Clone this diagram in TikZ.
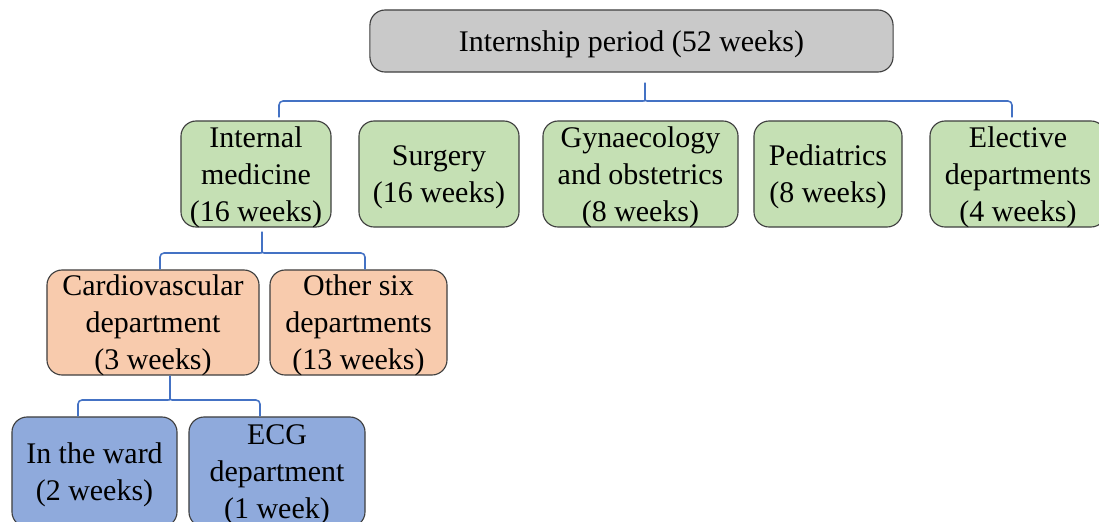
\documentclass[tikz,border=0pt]{standalone}
\usepackage{fontspec}
\setmainfont{Liberation Serif}
\usetikzlibrary{calc}
\definecolor{topGrey}{HTML}{C9C9C9}
\definecolor{deptGreen}{HTML}{C5E0B4}
\definecolor{subOrange}{HTML}{F8CBAD}
\definecolor{partBlue}{HTML}{8FAADC}
\definecolor{edgeGrey}{HTML}{3F3F3F}
\definecolor{braceBlue}{HTML}{4472C4}

\begin{document}
\begin{tikzpicture}[x=0.025cm,y=-0.025cm,
  box/.style={draw=edgeGrey,line width=0.8pt,rounded corners=0.38cm,align=center,
    inner sep=0pt,text depth=0pt,font=\fontsize{21.3}{26.3}\selectfont},
  level0/.style={box,fill=topGrey,minimum width=13.075cm,minimum height=1.55cm},
  level1/.style={box,fill=deptGreen,minimum height=2.65cm},
  level2/.style={box,fill=subOrange,minimum height=2.625cm},
  level3/.style={box,fill=partBlue,minimum height=2.75cm},
  brace/.style={draw=braceBlue,line width=1.1pt,rounded corners=0.1cm}]
  \useasboundingbox (0,0) rectangle (1099,521);
  \clip (0,0) rectangle (1099,521);

  % boxes
  \node[level0] (top) at (631.5,41) {Internship period (52 weeks)};
  \node[level1,minimum width=3.75cm] (intmed) at (256,174) {Internal\\medicine\\(16 weeks)};
  \node[level1,minimum width=4cm] (surg) at (439,174) {Surgery\\(16 weeks)};
  \node[level1,minimum width=4.875cm] (gyn) at (640.5,174) {Gynaecology\\and obstetrics\\(8 weeks)};
  \node[level1,minimum width=3.7cm] (ped) at (828,174) {Pediatrics\\(8 weeks)};
  \node[level1,minimum width=4.4cm] (elect) at (1018,174) {Elective\\departments\\(4 weeks)};
  \node[level2,minimum width=5.3cm] (cardio) at (153,322.5) {Cardiovascular\\department\\(3 weeks)};
  \node[level2,minimum width=4.425cm] (other) at (358.5,322.5) {Other six\\departments\\(13 weeks)};
  \node[level3,minimum width=4.125cm] (ward) at (94.5,472) {In the ward\\(2 weeks)};
  \node[level3,minimum width=4.4cm] (ecg) at (277,472) {ECG\\department\\(1 week)};

  % brace joints
  \coordinate (j1) at (645,101);
  \coordinate (l1) at (279,101);
  \coordinate (r1) at (1012,101);
  \coordinate (j2) at (262,253);
  \coordinate (l2) at (160,253);
  \coordinate (r2) at (365,253);
  \coordinate (j3) at (170,400);
  \coordinate (l3) at (78,400);
  \coordinate (r3) at (260,400);

  % braces
  \draw[brace] ($(top.south -| j1)+(0,10)$) -- ($(j1)+(0,-6)$) .. controls (j1) .. ($(j1)+(-6,0)$)
    -- (l1) -- ($(intmed.north -| l1)+(0,-3)$);
  \draw[brace] ($(j1)+(0,-6)$) .. controls (j1) .. ($(j1)+(6,0)$)
    -- (r1) -- ($(elect.north -| r1)+(0,-3)$);
  \draw[brace] ($(intmed.south -| j2)+(0,4)$) -- ($(j2)+(0,-6)$) .. controls (j2) .. ($(j2)+(-6,0)$)
    -- (l2) -- (cardio.north -| l2);
  \draw[brace] ($(j2)+(0,-6)$) .. controls (j2) .. ($(j2)+(6,0)$)
    -- (r2) -- (other.north -| r2);
  \draw[brace] (cardio.south -| j3) -- ($(j3)+(0,-6)$) .. controls (j3) .. ($(j3)+(-6,0)$)
    -- (l3) -- (ward.north -| l3);
  \draw[brace] ($(j3)+(0,-6)$) .. controls (j3) .. ($(j3)+(6,0)$)
    -- (r3) -- (ecg.north -| r3);
\end{tikzpicture}
\end{document}
